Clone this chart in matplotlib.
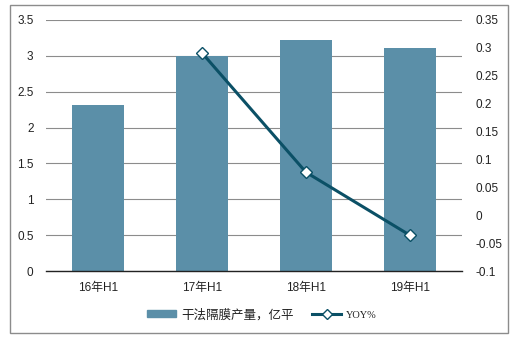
import matplotlib
matplotlib.use("Agg")
import matplotlib.pyplot as plt
from matplotlib.patches import Rectangle
from matplotlib.lines import Line2D

plt.rcParams['font.family'] = ['Liberation Sans', 'Noto Sans CJK SC', 'DejaVu Sans']

categories = ["16年H1", "17年H1", "18年H1", "19年H1"]
output = [2.31, 3.0, 3.22, 3.11]
yoy_x = ["17年H1", "18年H1", "19年H1"]
yoy = [0.291, 0.077, -0.036]
left_ticks = [0, 0.5, 1, 1.5, 2, 2.5, 3, 3.5]
right_ticks = [-0.1, -0.05, 0, 0.05, 0.1, 0.15, 0.2, 0.25, 0.3, 0.35]

bar_color = "#5B8FA8"
line_color = "#0B5066"

fig = plt.figure(figsize=(5.30, 3.43), dpi=100)
fig.patches.append(Rectangle((10/530, 1 - 333/343), 498/530, 328/343,
                             transform=fig.transFigure, fill=False,
                             edgecolor="#8c8c8c", linewidth=1.0))

ax = fig.add_axes([46/530, 1 - 271/343, 416/530, 251/343])
x = list(range(len(categories)))
ax.bar(x, output, width=0.5, color=bar_color, zorder=2, label="干法隔膜产量，亿平")
ax.set_xlim(-0.5, len(categories) - 0.5)
ax.set_ylim(0, 3.5)
ax.set_yticks(left_ticks)
ax.set_yticklabels([f"{t:g}" for t in left_ticks])
ax.set_xticks(x)
ax.set_xticklabels(categories)
ax.grid(axis='y', color="#8c8c8c", linewidth=0.8, zorder=0)
for s in ["top", "right", "left"]:
    ax.spines[s].set_visible(False)
ax.spines["bottom"].set_color("#222222")
ax.spines["bottom"].set_linewidth(1.0)
ax.spines["bottom"].set_zorder(3)
ax.tick_params(axis='both', length=0, labelsize=8.5, colors="#222222")
ax.tick_params(axis='y', pad=9)
ax.tick_params(axis='x', pad=8)

ax2 = ax.twinx()
xi = [categories.index(c) for c in yoy_x]
ax2.plot(xi, yoy, color=line_color, linewidth=2.2, marker='D', markersize=6,
         markerfacecolor='white', markeredgecolor=line_color, markeredgewidth=1.0,
         zorder=4)
ax2.set_ylim(-0.1, 0.35)
ax2.set_yticks(right_ticks)
ax2.set_yticklabels([f"{t:g}" for t in right_ticks])
for s in ["top", "right", "left", "bottom"]:
    ax2.spines[s].set_visible(False)
ax2.tick_params(axis='y', length=0, labelsize=8.5, colors="#222222", pad=10)

handles = [Rectangle((0, 0), 1, 1, color=bar_color),
           Line2D([0], [0], color=line_color, linewidth=2.2, marker='D',
                  markersize=5, markerfacecolor='white', markeredgecolor=line_color)]
leg = fig.legend(handles, ["干法隔膜产量，亿平", "YOY%"], loc='center',
                 bbox_to_anchor=(262/530, 1 - 315/343), ncol=2, frameon=False,
                 fontsize=9, handlelength=2.3, handleheight=0.5, columnspacing=1.5,
                 handletextpad=0.4)
for t in leg.get_texts():
    t.set_color("#222222")
leg.get_texts()[1].set_family(['Liberation Serif'])
leg.get_texts()[1].set_fontsize(7.5)

fig.savefig("out.png", dpi=100)
